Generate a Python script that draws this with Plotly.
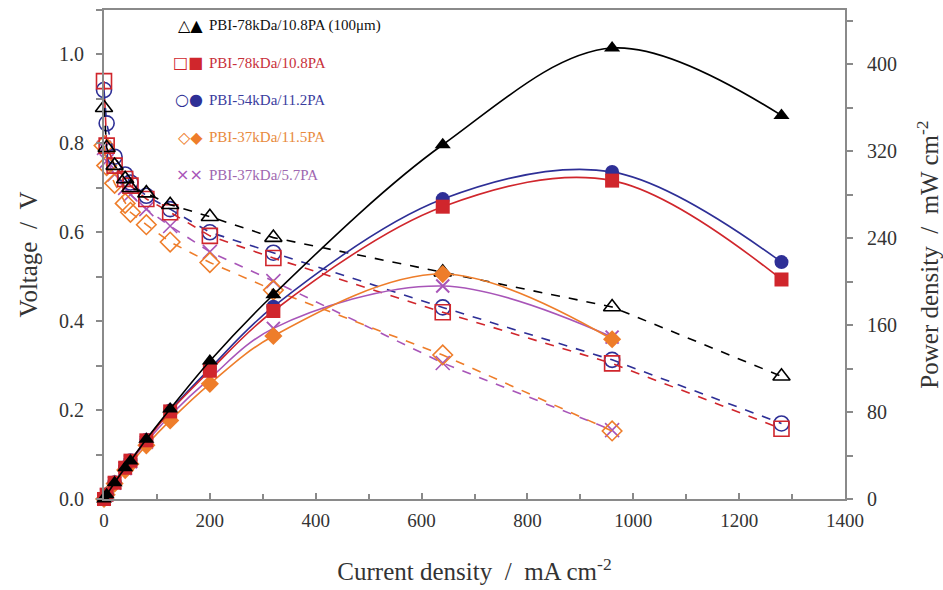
import plotly.graph_objects as go

# Current density (mA cm-2)
current = [0, 5, 20, 40, 50, 80, 125, 200, 320, 640, 960, 1280]

# Cell voltage (V), open markers
v_78_100um = [0.88, 0.79, 0.75, 0.72, 0.70, 0.688, 0.662, 0.635, 0.588, 0.51, 0.432, 0.276]
v_78 = [0.94, 0.795, 0.75, 0.72, 0.705, 0.675, 0.645, 0.592, 0.542, 0.42, 0.305, 0.158]
v_54 = [0.92, 0.845, 0.77, 0.73, 0.712, 0.682, 0.652, 0.60, 0.554, 0.431, 0.313, 0.17]
v_37_115 = [0.795, 0.75, 0.71, 0.665, 0.645, 0.617, 0.578, 0.532, 0.47, 0.324, 0.153]
v_37_57 = [0.79, 0.76, 0.73, 0.70, 0.685, 0.652, 0.614, 0.556, 0.49, 0.306, 0.155]

# Power density (mW cm-2), filled markers
p_78_100um = [0, 4.0, 15.0, 28.8, 35.0, 55.0, 82.8, 127, 188, 326, 415, 353]
p_78 = [0, 4.0, 15.0, 28.8, 35.3, 54.0, 80.6, 118, 173, 269, 293, 202]
p_54 = [0, 4.2, 15.4, 29.2, 35.6, 54.6, 81.5, 120, 177, 276, 301, 218]
p_37_115 = [0, 3.8, 14.2, 26.6, 32.3, 49.4, 72.3, 106, 150, 207, 147]
p_37_57 = [0, 3.8, 14.6, 28.0, 34.3, 52.2, 76.8, 111, 157, 196, 149]

labels = ["PBI-78kDa/10.8PA (100\u03bcm)", "PBI-78kDa/10.8PA", "PBI-54kDa/11.2PA",
          "PBI-37kDa/11.5PA", "PBI-37kDa/5.7PA"]
colors = ["#000000", "#d0262c", "#2e2f96", "#ee7d2a", "#a855b8"]
text_colors = ["#111111", "#c8303a", "#3b3d9e", "#e88a3c", "#a067b0"]
sym_open = ["triangle-up-open", "square-open", "circle-open", "diamond-open", "x-thin-open"]
sym_fill = ["triangle-up", "square", "circle", "diamond", "x-thin"]
glyphs = ["\u25b3\u25b2", "\u25a1\u25a0", "\u25cb\u25cf", "\u25c7\u25c6", "\u00d7\u00d7"]

volts = [v_78_100um, v_78, v_54, v_37_115, v_37_57]
powers = [p_78_100um, p_78, p_54, p_37_115, p_37_57]

SERIF = "Liberation Serif"
SP = "\u00a0"

fig = go.Figure()

# Voltage curves: dashed lines with open markers (left axis)
for i in range(4, -1, -1):
    n = len(volts[i])
    fig.add_trace(go.Scatter(
        x=current[:n], y=volts[i], mode="lines+markers",
        line=dict(color=colors[i], width=1.6, dash="dash"),
        marker=dict(symbol=sym_open[i], size=15 if i != 4 else 14,
                    color=colors[i], line=dict(width=1.6, color=colors[i])),
        showlegend=False, yaxis="y", cliponaxis=False,
    ))

# Power curves: smooth lines with filled markers (right axis)
for i in range(4, -1, -1):
    n = len(powers[i])
    fig.add_trace(go.Scatter(
        x=current[:n], y=powers[i], mode="lines+markers",
        line=dict(color=colors[i], width=1.6, shape="spline", smoothing=1.0),
        marker=dict(symbol=sym_fill[i], size=14 if i != 4 else 13,
                    color=colors[i], line=dict(width=2 if i == 4 else 0, color=colors[i])),
        showlegend=False, yaxis="y2", cliponaxis=False,
    ))

# Legend block drawn as text rows
row_y = [0.969, 0.892, 0.816, 0.740, 0.663]
for i in range(5):
    fig.add_annotation(
        xref="paper", yref="paper", x=0.136, y=row_y[i], xanchor="right", yanchor="middle",
        text=glyphs[i], showarrow=False,
        font=dict(family="DejaVu Sans", size=16, color=colors[i]),
    )
    fig.add_annotation(
        xref="paper", yref="paper", x=0.139, y=row_y[i], xanchor="left", yanchor="middle",
        text=labels[i], showarrow=False,
        font=dict(family=SERIF, size=15, color=text_colors[i]),
    )

axis_gray = "#8a8a8a"
tick_font = dict(family=SERIF, size=19, color="#333333")
ytick_font = dict(family=SERIF, size=20, color="#333333")
title_font = dict(family=SERIF, size=25, color="#333333")
fig.update_layout(
    width=943, height=590,
    margin=dict(l=104, r=98, t=10, b=91),
    paper_bgcolor="white", plot_bgcolor="white",
    font=dict(family=SERIF, size=18, color="#333333"),
    xaxis=dict(
        range=[0, 1400], dtick=200, tick0=0, automargin=False,
        showgrid=False, zeroline=False,
        showline=True, linecolor=axis_gray, linewidth=2, mirror=True,
        ticks="inside", ticklen=6, tickcolor=axis_gray, tickwidth=1.5,
        minor=dict(dtick=100, ticks="inside", ticklen=5, tickcolor=axis_gray),
        tickfont=tick_font, ticklabelstandoff=3,
        title=dict(text=f"Current density{SP}{SP}/{SP}{SP}mA cm<sup>-2</sup>",
                   font=title_font, standoff=33),
    ),
    yaxis=dict(
        range=[0, 1.1], dtick=0.2, tick0=0, tickformat=".1f", automargin=False,
        showgrid=False, zeroline=False,
        showline=True, linecolor=axis_gray, linewidth=2,
        ticks="outside", ticklen=6, tickcolor=axis_gray, tickwidth=1.5,
        minor=dict(dtick=0.1, ticks="outside", ticklen=6, tickcolor=axis_gray),
        tickfont=ytick_font, ticklabelstandoff=8,
        title=dict(text=f"Voltage{SP}{SP}/{SP}{SP}V", font=title_font, standoff=14),
    ),
    yaxis2=dict(
        range=[0, 450], dtick=80, tick0=0, overlaying="y", side="right", automargin=False,
        showgrid=False, zeroline=False,
        showline=True, linecolor=axis_gray, linewidth=2,
        ticks="outside", ticklen=6, tickcolor=axis_gray, tickwidth=1.5,
        minor=dict(dtick=40, ticks="outside", ticklen=6, tickcolor=axis_gray),
        tickfont=ytick_font, ticklabelstandoff=10,
        title=dict(text=f"Power density{SP}{SP}/{SP}{SP}mW cm<sup>-2</sup>",
                   font=title_font, standoff=26),
    ),
)

fig.write_html("out.html")
